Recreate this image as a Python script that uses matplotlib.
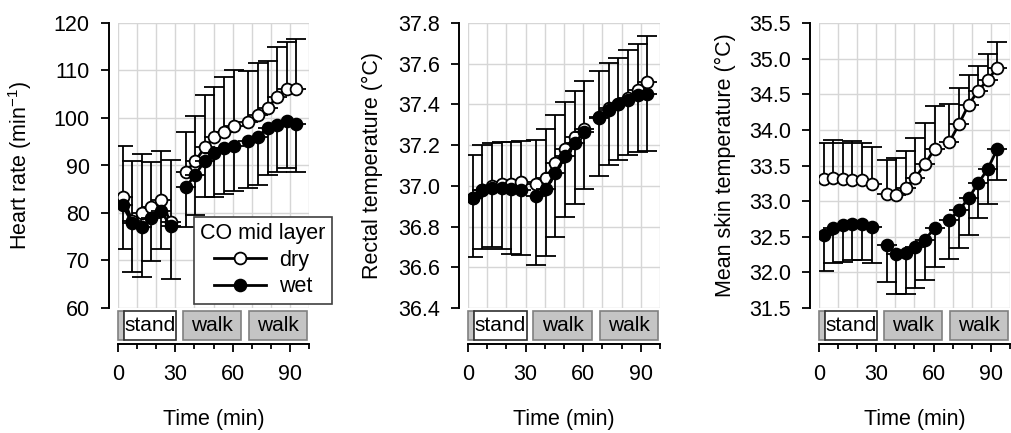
import numpy as np
import matplotlib
matplotlib.use("Agg")
import matplotlib.pyplot as plt
import matplotlib.ticker as mticker
from matplotlib.patches import Rectangle
from matplotlib.lines import Line2D

plt.rcParams['font.family'] = ['Liberation Sans', 'DejaVu Sans']
plt.rcParams['mathtext.fontset'] = 'custom'
plt.rcParams['mathtext.rm'] = 'Liberation Sans'
plt.rcParams['mathtext.it'] = 'Liberation Sans:italic'
plt.rcParams['mathtext.default'] = 'regular'

# sampling times (min), three phases
time = [2.5, 7.5, 12.5, 17.5, 22.5, 27.5,
        35.5, 40.5, 45.5, 50.5, 55.5, 60.5,
        68.3, 73.3, 78.3, 83.3, 88.3, 93.3]
segments = [(0, 6), (6, 12), (12, 18)]

# heart rate (1/min): mean, dry upper SD end, wet lower SD end
dry_hr = [83.3, 78.3, 79.9, 81.2, 82.8, 78.0, 88.6, 91.0, 93.8, 96.0, 97.1, 98.4,
          99.1, 100.6, 102.0, 104.5, 106.2, 106.1]
dry_hr_top = [94.2, 90.9, 92.4, 90.7, 93.1, 91.2, 97.1, 100.5, 104.9, 106.5, 108.6, 110.0,
              109.8, 111.6, 111.9, 114.9, 116.1, 116.7]
wet_hr = [81.6, 77.8, 77.0, 79.0, 80.5, 77.2, 85.4, 88.1, 91.0, 92.6, 93.6, 94.2,
          95.1, 96.1, 97.9, 98.5, 99.3, 98.7]
wet_hr_bot = [72.4, 67.6, 66.5, 69.8, 72.4, 66.1, 77.1, 79.6, 83.3, 83.3, 84.0, 84.6,
              85.3, 85.8, 88.1, 88.6, 89.5, 88.6]

# rectal temperature (C)
dry_re = [36.94, 36.98, 37.00, 37.01, 37.01, 37.02, 37.01, 37.04, 37.11, 37.18, 37.24, 37.28,
          37.34, 37.38, 37.40, 37.43, 37.47, 37.51]
dry_re_top = [37.15, 37.20, 37.21, 37.215, 37.215, 37.22, 37.225, 37.28, 37.35, 37.41, 37.465, 37.515,
              37.565, 37.605, 37.63, 37.665, 37.695, 37.735]
wet_re = [36.94, 36.98, 36.99, 36.99, 36.985, 36.98, 36.95, 36.985, 37.065, 37.145, 37.21, 37.265,
          37.335, 37.375, 37.40, 37.42, 37.445, 37.45]
wet_re_bot = [36.65, 36.69, 36.70, 36.69, 36.665, 36.66, 36.61, 36.655, 36.75, 36.845, 36.91, 36.985,
              37.05, 37.10, 37.125, 37.15, 37.165, 37.17]

# mean skin temperature (C)
dry_sk = [33.31, 33.33, 33.31, 33.30, 33.29, 33.24, 33.10, 33.09, 33.19, 33.33, 33.52, 33.73,
          33.83, 34.08, 34.35, 34.55, 34.70, 34.87]
dry_sk_top = [33.82, 33.86, 33.82, 33.845, 33.82, 33.765, 33.58, 33.61, 33.71, 33.89, 34.09, 34.34,
              34.36, 34.59, 34.77, 34.89, 35.07, 35.23]
wet_sk = [32.53, 32.62, 32.66, 32.68, 32.68, 32.64, 32.39, 32.26, 32.27, 32.35, 32.46, 32.62,
          32.74, 32.87, 33.04, 33.25, 33.45, 33.73]
wet_sk_bot = [32.02, 32.13, 32.15, 32.17, 32.17, 32.13, 31.87, 31.69, 31.70, 31.78, 31.90, 32.07,
              32.19, 32.34, 32.52, 32.76, 32.96, 33.30]

# activity strip under each panel
phase_start = [0, 3, 34, 68.5]
phase_end = [3, 30.5, 64.5, 99]
phase_label = ['', 'stand', 'walk', 'walk']
phase_fill = ['#c4c4c4', 'white', '#c4c4c4', '#c4c4c4']
phase_edge = ['#808080', '#303030', '#808080', '#808080']

W, H = 1012, 433
FS = 15.5
MS = 8.5
LW = 2.0
fig = plt.figure(figsize=(W / 100, H / 100), dpi=100)


def px_axes(x0, x1, y0, y1):
    return fig.add_axes([x0 / W, 1 - y1 / H, (x1 - x0) / W, (y1 - y0) / H])


def draw_panel(x0, x1, dry, dry_top, wet, wet_bot, ylim, ystep, fmt, ylabel, label_right):
    ax = px_axes(x0, x1, 23, 308)
    ax.set_xlim(0, 100)
    ax.set_ylim(*ylim)
    ax.xaxis.set_major_locator(mticker.MultipleLocator(10))
    ax.yaxis.set_major_locator(mticker.MultipleLocator(ystep))
    ax.yaxis.set_major_formatter(mticker.FormatStrFormatter(fmt))
    ax.grid(True, color='#d6d6d6', lw=1)
    ax.set_axisbelow(True)
    for s in ['top', 'right', 'bottom']:
        ax.spines[s].set_visible(False)
    ax.spines['left'].set_position(('outward', 6.5))
    ax.spines['left'].set_linewidth(1.4)
    ax.tick_params(axis='x', length=0, labelbottom=False)
    ax.tick_params(axis='y', length=5.8, width=1.3, pad=8, labelsize=FS)
    ax.set_ylabel(ylabel, fontsize=FS)
    ax.yaxis.set_label_coords((label_right - x0) / (x1 - x0), 0.5)

    t = np.array(time)
    dry, dry_top = np.array(dry), np.array(dry_top)
    wet, wet_bot = np.array(wet), np.array(wet_bot)
    for a, b in segments:
        z = np.zeros(b - a)
        ax.errorbar(t[a:b], dry[a:b], yerr=[z, dry_top[a:b] - dry[a:b]], fmt='none',
                    ecolor='k', elinewidth=1.3, capsize=7, capthick=1.3, zorder=2)
        ax.plot(t[a:b], dry[a:b], '-o', color='k', lw=LW, ms=MS, mfc='white',
                mec='k', mew=1.3, zorder=3)
        ax.errorbar(t[a:b], wet[a:b], yerr=[wet[a:b] - wet_bot[a:b], z], fmt='none',
                    ecolor='k', elinewidth=1.3, capsize=7, capthick=1.3, zorder=4)
        ax.plot(t[a:b], wet[a:b], '-o', color='k', lw=LW, ms=MS, mfc='k',
                mec='k', mew=1.3, zorder=5)

    bx = px_axes(x0, x1, 311, 344)
    bx.set_xlim(0, 100)
    bx.set_ylim(0, 1)
    for s in ['top', 'right', 'left']:
        bx.spines[s].set_visible(False)
    bx.spines['bottom'].set_linewidth(1.4)
    bx.set_yticks([])
    bx.xaxis.set_major_locator(mticker.FixedLocator([0, 30, 60, 90]))
    bx.xaxis.set_minor_locator(mticker.MultipleLocator(10))
    bx.tick_params(axis='x', which='major', length=6, width=1.3, pad=8.5, labelsize=FS)
    bx.tick_params(axis='x', which='minor', length=3.8, width=1.3)
    for s0, s1, lab, fc, ec in zip(phase_start, phase_end, phase_label, phase_fill, phase_edge):
        bx.add_patch(Rectangle((s0, 0.12), s1 - s0, 0.87, facecolor=fc, edgecolor=ec,
                               lw=1.2, clip_on=False))
        if lab:
            bx.text((s0 + s1) / 2, 0.555, lab, ha='center', va='center', fontsize=15)
    bx.set_xlabel('Time (min)', fontsize=FS)
    bx.xaxis.set_label_coords(0.5, -1.98)
    return ax


draw_panel(118, 309, dry_hr, dry_hr_top, wet_hr, wet_hr_bot, (60, 120), 10, '%d',
           'Heart rate (min$^{-1}$)', 34)
draw_panel(468, 660, dry_re, dry_re_top, wet_re, wet_re_bot, (36.4, 37.8), 0.2, '%.1f',
           'Rectal temperature (°C)', 383)
draw_panel(819, 1010, dry_sk, dry_sk_top, wet_sk, wet_sk_bot, (31.5, 35.5), 0.5, '%.1f',
           'Mean skin temperature (°C)', 736)

handles = [Line2D([], [], color='k', lw=LW, marker='o', ms=MS, mfc='white', mec='k', mew=1.3),
           Line2D([], [], color='k', lw=LW, marker='o', ms=MS, mfc='k', mec='k', mew=1.3)]
leg = fig.legend(handles, ['dry', 'wet'], title='CO mid layer', loc='upper left',
                 bbox_to_anchor=(194 / W, 1 - 217 / H), borderaxespad=0, fontsize=FS,
                 title_fontsize=FS, fancybox=False, framealpha=1, edgecolor='#404040',
                 handlelength=2.4, handletextpad=0.6, labelspacing=0.25,
                 borderpad=0.3, alignment='center', numpoints=1)
leg.get_frame().set_linewidth(1.2)

fig.savefig('out.png', dpi=100, facecolor='white')
